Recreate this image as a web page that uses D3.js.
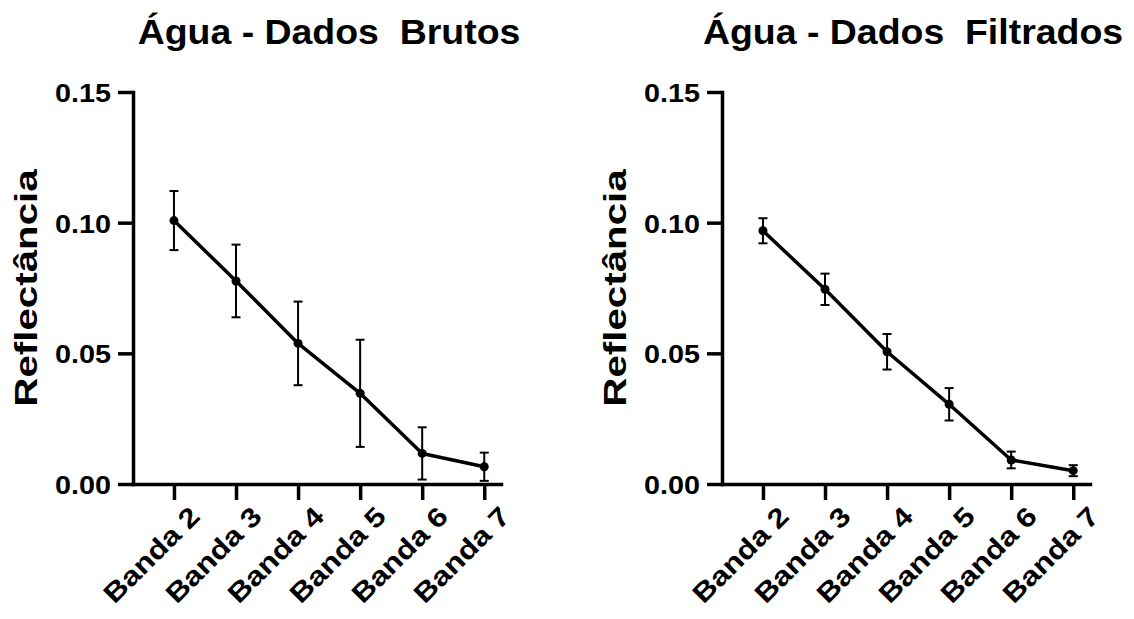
<!DOCTYPE html>
<html>
<head>
<meta charset="utf-8">
<script src="https://cdn.jsdelivr.net/npm/d3@7"></script>
<style>
  body { margin: 0; background: #fff; }
  svg text { font-family: "Liberation Sans", Arial, sans-serif; font-weight: bold; fill: #000; white-space: pre; }
</style>
</head>
<body>
<svg id="chart" width="1134" height="619"></svg>
<script>
// data
const bandas = ["Banda 2", "Banda 3", "Banda 4", "Banda 5", "Banda 6", "Banda 7"];
const brutosMedia = [0.1008, 0.0777, 0.0538, 0.0347, 0.0117, 0.0066];
const brutosErro = [0.0113, 0.0139, 0.0160, 0.0205, 0.0100, 0.0054];
const filtradosMedia = [0.0969, 0.0745, 0.0506, 0.0305, 0.0092, 0.0051];
const filtradosErro = [0.0048, 0.0060, 0.0068, 0.0062, 0.0032, 0.0021];
const yTicks = [0, 0.05, 0.10, 0.15];
const titulos = ["Água - Dados  Brutos", "Água - Dados  Filtrados"];
const yLabel = "Reflectância";

const svg = d3.select("#chart");

const panels = [
  { ox: 133, titleX: 329, media: brutosMedia, erro: brutosErro, title: titulos[0] },
  { ox: 722, titleX: 913, media: filtradosMedia, erro: filtradosErro, title: titulos[1] }
];

const plotTop = 92, plotBottom = 484, axisLen = 368;

panels.forEach(p => {
  const g = svg.append("g").attr("transform", `translate(${p.ox},0)`);

  const x = d3.scaleLinear().domain([-0.66, 5.27]).range([0, axisLen]);
  const y = d3.scaleLinear().domain([0, 0.15]).range([plotBottom, plotTop]);

  // title
  svg.append("text")
     .attr("xml:space", "preserve")
     .attr("transform", `translate(${p.titleX},44) scale(1.07,1)`)
     .attr("text-anchor", "middle")
     .style("font-size", "35px")
     .text(p.title);

  // y axis
  const ya = g.append("g")
     .call(d3.axisLeft(y).tickValues(yTicks).tickFormat(d3.format(".2f"))
             .tickSize(15).tickSizeOuter(0));
  ya.select(".domain").attr("stroke-width", 3.5).attr("stroke-linecap", "square");
  ya.selectAll(".tick line").attr("stroke-width", 3.5);
  ya.selectAll(".tick text")
    .attr("x", -22 / 1.15)
    .attr("dy", "0.38em")
    .attr("transform", "scale(1.15,1)")
    .style("font-size", "25px");

  // x axis
  const xa = g.append("g")
     .attr("transform", `translate(0,${plotBottom})`)
     .call(d3.axisBottom(x).tickValues(d3.range(bandas.length))
             .tickFormat(i => bandas[i]).tickSize(16).tickSizeOuter(0));
  xa.select(".domain").attr("stroke-width", 3.5).attr("stroke-linecap", "square");
  xa.selectAll(".tick line").attr("stroke-width", 3.5);
  xa.selectAll(".tick text")
    .attr("y", null).attr("dy", null)
    .attr("text-anchor", "end")
    .attr("transform", "translate(27,34) rotate(-45) scale(1.17,1)")
    .style("font-size", "27px");
  g.selectAll("g").attr("font-family", null).attr("font-size", null);

  // y label
  g.append("text")
   .attr("transform", `translate(-96,${(plotTop + plotBottom) / 2}) rotate(-90) scale(1.3,1)`)
   .attr("text-anchor", "middle")
   .style("font-size", "31px")
   .text(yLabel);

  const pts = p.media.map((m, i) => ({ i, m, e: p.erro[i] }));

  // error bars
  const eb = g.append("g").attr("stroke", "#000").attr("stroke-width", 2);
  pts.forEach(d => {
    const cx = x(d.i);
    eb.append("line").attr("x1", cx).attr("x2", cx)
      .attr("y1", y(d.m + d.e)).attr("y2", y(d.m - d.e));
    [d.m + d.e, d.m - d.e].forEach(v => {
      eb.append("line").attr("x1", cx - 4.5).attr("x2", cx + 4.5)
        .attr("y1", y(v)).attr("y2", y(v));
    });
  });

  // line
  g.append("path")
   .datum(pts)
   .attr("fill", "none")
   .attr("stroke", "#000")
   .attr("stroke-width", 3.5)
   .attr("stroke-linejoin", "round")
   .attr("d", d3.line().x(d => x(d.i)).y(d => y(d.m)));

  g.selectAll("circle.pt")
   .data(pts)
   .join("circle")
   .attr("class", "pt")
   .attr("cx", d => x(d.i))
   .attr("cy", d => y(d.m))
   .attr("r", 4.5)
   .attr("fill", "#000");
});
</script>
</body>
</html>
